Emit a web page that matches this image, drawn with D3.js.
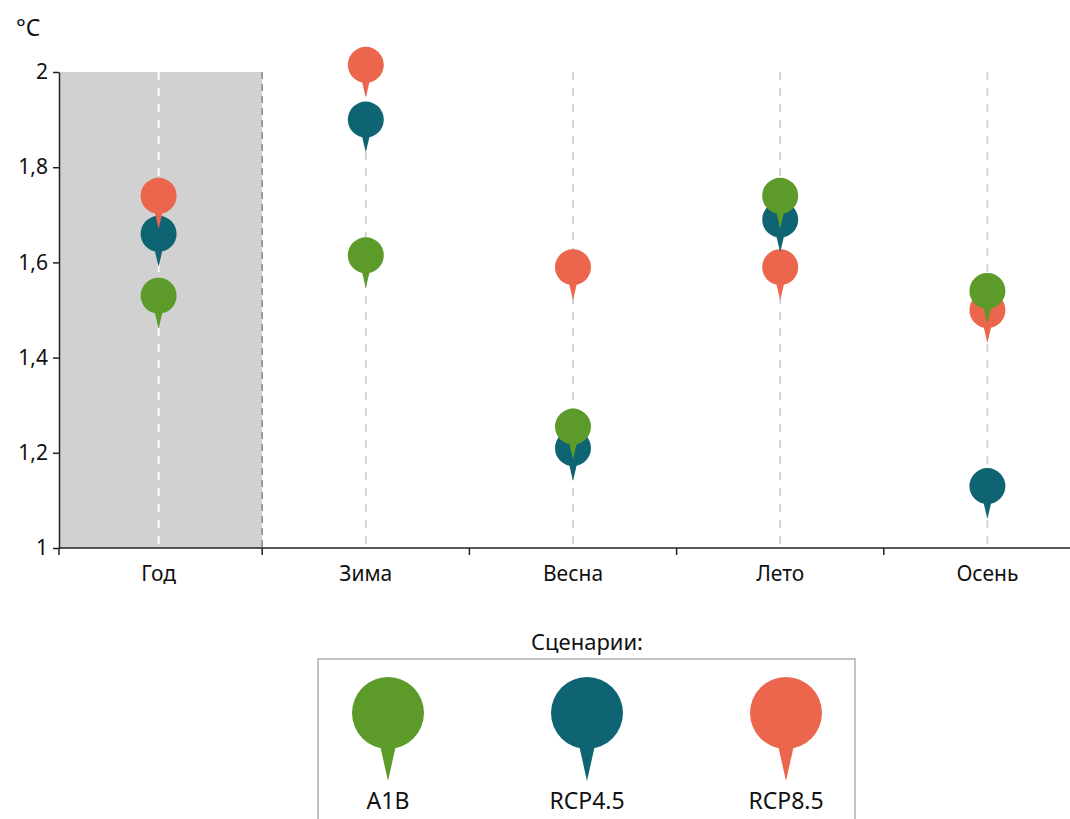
<!DOCTYPE html>
<html lang="ru">
<head>
<meta charset="utf-8">
<title>Изменение температуры</title>
<script src="https://cdn.jsdelivr.net/npm/d3@7"></script>
<style>
  body { margin: 0; background: #fff; }
  svg text { font-family: "Noto Sans", "DejaVu Sans", sans-serif; fill: #111; }
  .axis path, .axis line { stroke: #222; stroke-width: 1.5; }
</style>
</head>
<body>
<script>
// data
var categories = ["Год", "Зима", "Весна", "Лето", "Осень"];
var scenarios = ["A1B", "RCP4.5", "RCP8.5"];
var colors = ["#5c9b2a", "#0e6472", "#ec654d"];
var a1b   = [1.53, 1.615, 1.255, 1.74, 1.54];
var rcp45 = [1.66, 1.90, 1.21, 1.69, 1.13];
var rcp85 = [1.74, 2.015, 1.59, 1.59, 1.50];
var yTicks = [1, 1.2, 1.4, 1.6, 1.8, 2];

var w = 1070, h = 819;
var padLeft = 59, padTop = 72, padBottom = 548, padRight = 1070;

var svg = d3.select("body").append("svg")
  .attr("width", w)
  .attr("height", h);

// scales
var xScale = d3.scaleBand()
  .domain(categories)
  .range([55, 1091]);

var yScale = d3.scaleLinear()
  .domain([1, 2])
  .range([padBottom, padTop]);

var ru = d3.formatLocale({decimal: ",", thousands: " ", grouping: [3], currency: ["", ""]});
var fmt = ru.format("~g");

// grey block behind "Год"
svg.append("rect")
  .attr("x", padLeft)
  .attr("y", padTop)
  .attr("width", xScale(categories[1]) - padLeft)
  .attr("height", padBottom - padTop)
  .attr("fill", "#d1d1d1");

svg.append("line")
  .attr("x1", xScale(categories[1])).attr("x2", xScale(categories[1]))
  .attr("y1", padTop).attr("y2", padBottom)
  .attr("stroke", "#8a8a8a")
  .attr("stroke-width", 1.5)
  .attr("stroke-dasharray", "7,5");

// dashed guides at each category
svg.selectAll(".guide")
  .data(categories)
  .enter()
  .append("line")
  .attr("class", "guide")
  .attr("x1", function(d) { return xScale(d) + xScale.bandwidth() / 2; })
  .attr("x2", function(d) { return xScale(d) + xScale.bandwidth() / 2; })
  .attr("y1", padTop)
  .attr("y2", padBottom)
  .attr("stroke", function(d, i) { return i == 0 ? "#fff" : "#d4d4d4"; })
  .attr("stroke-width", 2)
  .attr("stroke-dasharray", "8,8");

// Y axis
var yAxis = d3.axisLeft(yScale)
  .tickValues(yTicks)
  .tickFormat(fmt)
  .tickSize(6)
  .tickSizeOuter(0);

var gy = svg.append("g")
  .attr("class", "axis")
  .attr("transform", "translate(" + padLeft + ",0)")
  .call(yAxis);
gy.selectAll("text")
  .attr("font-size", "21px")
  .attr("fill", "#111")
  .attr("x", -11);

svg.append("text")
  .attr("x", 16)
  .attr("y", 36)
  .attr("font-size", "23px")
  .text("°C");

// X axis
var gx = svg.append("g")
  .attr("class", "axis")
  .attr("transform", "translate(0," + padBottom + ")");
gx.append("line")
  .attr("x1", padLeft).attr("x2", padRight)
  .attr("y1", 0).attr("y2", 0);
var bounds = [padLeft].concat(categories.slice(1).map(function(c) { return xScale(c); }));
gx.selectAll(".xtick")
  .data(bounds)
  .enter()
  .append("line")
  .attr("class", "xtick")
  .attr("x1", function(d) { return d; })
  .attr("x2", function(d) { return d; })
  .attr("y1", 0)
  .attr("y2", 7);
gx.selectAll(".xlabel")
  .data(categories)
  .enter()
  .append("text")
  .attr("class", "xlabel")
  .attr("x", function(d) { return xScale(d) + xScale.bandwidth() / 2; })
  .attr("y", 33)
  .attr("text-anchor", "middle")
  .attr("font-size", "21px")
  .text(function(d) { return d; });

// pin shape: circle with a tail, center at (0,0)
function pin(r, tip) {
  var p = d3.path();
  p.moveTo(r, 0);
  p.arc(0, 0, r, 0, Math.PI * 2);
  p.closePath();
  var bw = r * 0.27, by = r * 0.68;
  p.moveTo(-bw, by);
  p.lineTo(bw, by);
  p.lineTo(0, tip);
  p.closePath();
  return p.toString();
}

// points, higher values drawn on top
var series = [a1b, rcp45, rcp85];
var points = [];
categories.forEach(function(c, i) {
  series.forEach(function(s, j) {
    points.push({cat: c, value: s[i], color: colors[j]});
  });
});
points.sort(function(a, b) { return a.value - b.value; });

svg.selectAll(".pin")
  .data(points)
  .enter()
  .append("path")
  .attr("class", "pin")
  .attr("d", pin(18, 33))
  .attr("fill", function(d) { return d.color; })
  .attr("transform", function(d) {
    return "translate(" + (xScale(d.cat) + xScale.bandwidth() / 2) + "," + yScale(d.value) + ")";
  });

// legend
svg.append("text")
  .attr("x", 587)
  .attr("y", 650)
  .attr("text-anchor", "middle")
  .attr("font-size", "22px")
  .text("Сценарии:");

svg.append("rect")
  .attr("x", 318)
  .attr("y", 659)
  .attr("width", 537)
  .attr("height", 180)
  .attr("fill", "none")
  .attr("stroke", "#999")
  .attr("stroke-width", 1.2);

var legendX = d3.scalePoint()
  .domain(scenarios)
  .range([388, 786]);

var lg = svg.selectAll(".leg")
  .data(scenarios)
  .enter()
  .append("g")
  .attr("class", "leg")
  .attr("transform", function(d) { return "translate(" + legendX(d) + ",713)"; });
lg.append("path")
  .attr("d", pin(36, 68))
  .attr("fill", function(d, i) { return colors[i]; });
lg.append("text")
  .attr("y", 96)
  .attr("text-anchor", "middle")
  .attr("font-size", "23px")
  .text(function(d) { return d; });
</script>
</body>
</html>
